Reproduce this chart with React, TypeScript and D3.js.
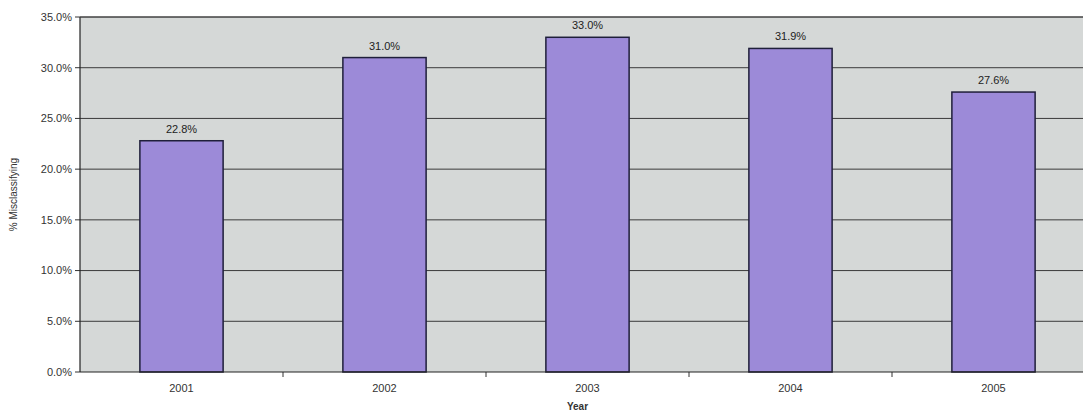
import React from 'react';
import * as d3 from 'd3';

const years = ['2001', '2002', '2003', '2004', '2005'];
const misclassified = [22.8, 31.0, 33.0, 31.9, 27.6];
const yTicks = [0, 5, 10, 15, 20, 25, 30, 35];

const width = 1083;
const height = 414;
const margin = { top: 17, right: -12, bottom: 42, left: 80 };

export default function App() {
  const innerW = width - margin.left - margin.right;
  const innerH = height - margin.top - margin.bottom;

  const x = d3.scaleBand().domain(years).range([0, innerW]).paddingInner(0.59).paddingOuter(0.295);
  const y = d3.scaleLinear().domain([0, 35]).range([innerH, 0]);
  const step = x.step();
  const font = '"Liberation Sans", Arial, sans-serif';

  return (
    <svg width={width} height={height} style={{ position: 'absolute', left: 0, top: 0, background: '#fff' }}>
      <g transform={`translate(${margin.left},${margin.top})`}>
        <rect x={0} y={0} width={innerW} height={innerH} fill="#d5d8d7" />
        {yTicks.map(t => (
          <g key={t}>
            {t > 0 && <line x1={0} x2={innerW} y1={y(t)} y2={y(t)} stroke="#3a3a3a" strokeWidth={1} />}
            <line x1={-5} x2={0} y1={y(t)} y2={y(t)} stroke="#333" />
            <text x={-8} y={y(t)} dy="0.35em" textAnchor="end" fontFamily={font} fontSize={11} fill="#333">
              {t.toFixed(1)}%
            </text>
          </g>
        ))}
        {years.map((yr, i) => (
          <g key={yr}>
            <rect
              x={x(yr)}
              y={y(misclassified[i])}
              width={x.bandwidth()}
              height={innerH - y(misclassified[i])}
              fill="#9c8ad8"
              stroke="#1f1f3a"
              strokeWidth={1.5}
            />
            <text
              x={(x(yr) as number) + x.bandwidth() / 2}
              y={y(misclassified[i]) - 8}
              textAnchor="middle"
              fontFamily={font}
              fontSize={11}
              fill="#222"
            >
              {misclassified[i].toFixed(1)}%
            </text>
            <text
              x={(x(yr) as number) + x.bandwidth() / 2}
              y={innerH + 20}
              textAnchor="middle"
              fontFamily={font}
              fontSize={11}
              fill="#333"
            >
              {yr}
            </text>
            {i > 0 && (
              <line
                x1={step * i}
                x2={step * i}
                y1={innerH}
                y2={innerH + 5}
                stroke="#333"
              />
            )}
          </g>
        ))}
        <line x1={0} x2={0} y1={0} y2={innerH} stroke="#222" strokeWidth={1.2} />
        <line x1={0} x2={innerW} y1={innerH} y2={innerH} stroke="#222" strokeWidth={1.2} />
        <line x1={0} x2={innerW} y1={0} y2={0} stroke="#444" strokeWidth={1} />
        <text
          x={innerW / 2 - 10}
          y={innerH + 38}
          textAnchor="middle"
          fontFamily={font}
          fontSize={10}
          fontWeight="bold"
          fill="#333"
        >
          Year
        </text>
      </g>
      <text
        transform={`translate(17,${margin.top + innerH / 2}) rotate(-90)`}
        textAnchor="middle"
        fontFamily={font}
        fontSize={10}
        fill="#333"
      >
        % Misclassifying
      </text>
    </svg>
  );
}
